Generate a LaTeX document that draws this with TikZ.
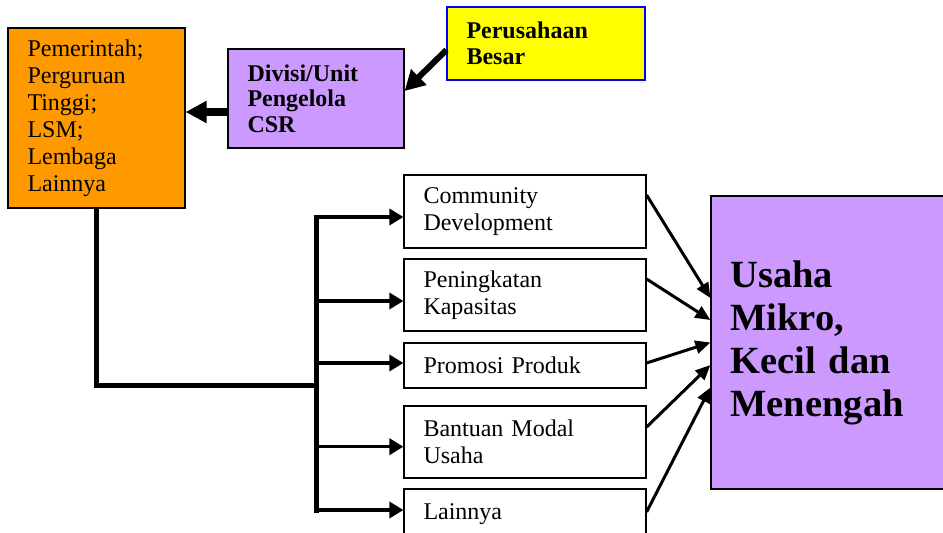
\documentclass[tikz,border=0pt]{standalone}
\usepackage{fontspec}
\setmainfont{Liberation Serif}
\usetikzlibrary{arrows.meta}
\definecolor{orangebox}{HTML}{FF9900}
\definecolor{purplebox}{HTML}{CC99FF}
\definecolor{yellowbox}{HTML}{FFFF00}
\definecolor{bluebox}{HTML}{0000FF}
\begin{document}
\begin{tikzpicture}[x=1pt, y=-1pt,
    box/.style={draw=black, line width=1.2pt, inner xsep=19.5pt, align=left,
      font=\fontsize{24}{27}\selectfont},
    strong/.style={box, font=\bfseries\fontsize{24}{25.5}\selectfont},
    fat/.style={line width=6pt, -{Triangle[length=20pt,width=21pt]}},
    fatter/.style={line width=8pt, -{Triangle[length=21pt,width=21pt]}},
    trunk/.style={line width=5pt},
    branch/.style={line width=3.5pt, -{Triangle[length=14pt,width=16pt]}},
    link/.style={line width=3pt, -{Triangle[length=15pt,width=13pt]}}]
      \fill[white] (0,0) rectangle (943,533);
      \useasboundingbox (0,0) rectangle (943,533);
      \node[box, fill=orangebox, text width=138pt, minimum height=180pt] (pem) at (96.5,118)
        {Pemerintah;\\Perguruan\\Tinggi;\\LSM;\\Lembaga\\Lainnya};
      \node[strong, fill=purplebox, text width=137pt, minimum height=99pt] (csr) at (316,98.5)
        {Divisi/Unit\\Pengelola\\CSR};
      \node[strong, fill=yellowbox, draw=bluebox, text width=159pt, minimum height=73pt] (pb) at (546,43.5)
        {Perusahaan\\Besar};
      \node[box, text width=203pt, minimum height=73pt] (cd) at (525,211.5) {Community\\Development};
      \node[box, text width=203pt, minimum height=72pt] (pk) at (525,295) {Peningkatan\\Kapasitas};
      \node[box, text width=203pt, minimum height=45pt] (pp) at (525,365.5) {Promosi Produk};
      \node[box, text width=203pt, minimum height=72pt] (bmu) at (525,442) {Bantuan Modal\\Usaha};
      \node[box, text width=203pt, minimum height=50pt] (lain) at (525,514) {Lainnya};
      \node[box, fill=purplebox, font=\bfseries\fontsize{38.5}{43}\selectfont,
        text width=195pt, minimum height=293pt] (umkm) at (828,342.5)
        {Usaha\\Mikro,\\Kecil dan\\Menengah};
      \draw[fat] ([yshift=-6.5pt]pb.west) -- ([yshift=7.5pt]csr.east);
      \draw[fatter] ([yshift=-13.5pt]csr.west) -- ([yshift=6pt]pem.east);
      \coordinate (hub) at (316.7,385);
      \draw[trunk] (pem.south) |- (hub);
      \foreach \b/\dy in {cd/-5.5,pk/-6,pp/2.5,bmu/-4.7,lain/4} {
        \coordinate (\b-in) at ([yshift=\dy pt]\b.west);
        \draw[branch] (hub |- \b-in) -- (\b-in);
      }
      \draw[trunk, line cap=rect] (hub |- cd-in) -- (hub |- lain-in);
      \foreach \b/\sy/\ty in {cd/16.5/44.5,pk/16/22.5,pp/2.5/0,bmu/15/-22.5,lain/2/-45}
        \draw[link] ([yshift=\sy pt]\b.east) -- ([yshift=\ty pt]umkm.west);
    \end{tikzpicture}
\end{document}
